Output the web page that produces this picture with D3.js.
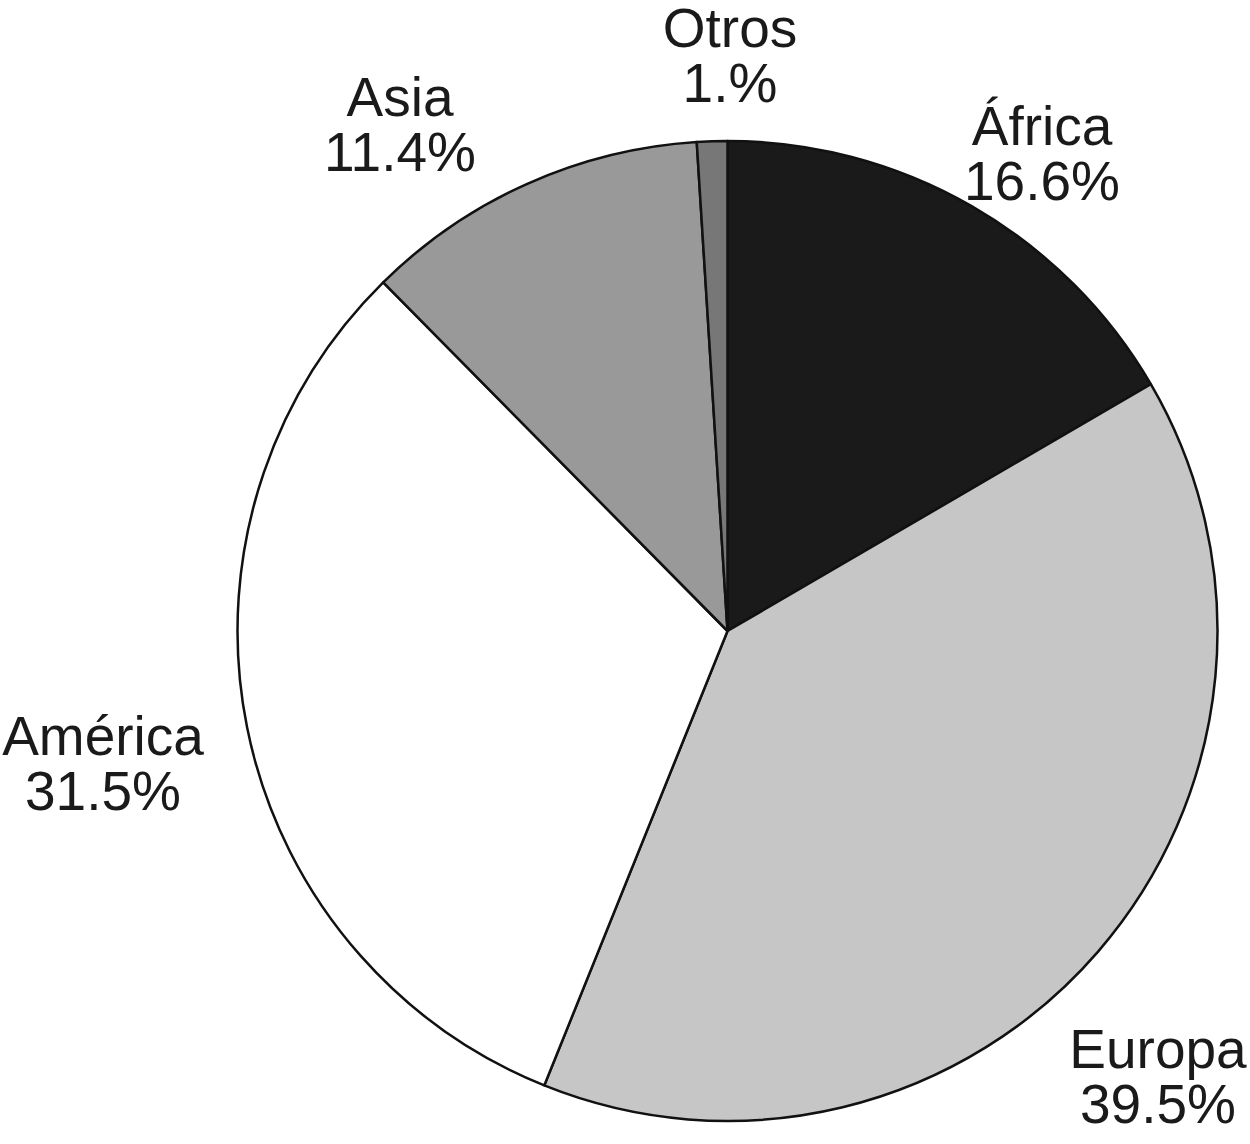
<!DOCTYPE html>
<html><head><meta charset="utf-8">
<script src="https://cdn.jsdelivr.net/npm/d3@7"></script>
<style>html,body{margin:0;padding:0;background:#fff;}</style>
</head><body>
<svg id="chart" width="1250" height="1144"></svg>
<script>
const categories = ["África", "Europa", "América", "Asia", "Otros"];
const values = [16.6, 39.5, 31.5, 11.4, 1.0];
const valueLabels = ["16.6%", "39.5%", "31.5%", "11.4%", "1.%"];
const colors = ["#1a1a1a", "#c6c6c6", "#ffffff", "#999999", "#777777"];
// label anchor positions (center x, first-line baseline)
const labelPos = [[1042, 145], [1158, 1068], [103, 755], [400, 116], [730, 47]];

const cx = 727.5, cy = 631, r = 490;
const svg = d3.select("#chart");
const g = svg.append("g").attr("transform", `translate(${cx},${cy})`);
const pie = d3.pie().sort(null).value(d => d)(values);
const arc = d3.arc().innerRadius(0).outerRadius(r);
g.selectAll("path").data(pie).join("path")
  .attr("d", arc)
  .attr("fill", (d, i) => colors[i])
  .attr("stroke", "#111")
  .attr("stroke-width", 2.5)
  .attr("stroke-linejoin", "round");

const lab = svg.append("g").attr("font-family", "Liberation Sans, Arial, sans-serif")
  .attr("font-size", 55).attr("fill", "#1a1a1a").attr("text-anchor", "middle");
categories.forEach((c, i) => {
  const t = lab.append("text").attr("x", labelPos[i][0]).attr("y", labelPos[i][1]);
  t.append("tspan").attr("x", labelPos[i][0]).text(c);
  t.append("tspan").attr("x", labelPos[i][0]).attr("dy", 55).text(valueLabels[i]);
});
</script>
</body></html>
